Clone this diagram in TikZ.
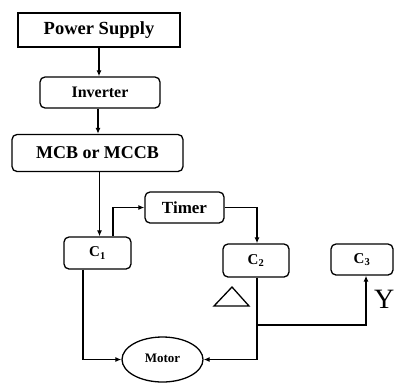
\documentclass[tikz,border=0pt]{standalone}
\usepackage{fontspec}
\setmainfont{Liberation Serif}
\usetikzlibrary{shapes.geometric,arrows.meta}
\begin{document}
\begin{tikzpicture}[x=1pt,y=-1pt,
  box/.style={draw,line width=1.3pt,rounded corners=5pt,inner sep=0pt,font=\bfseries},
  sqbox/.style={draw,line width=1.3pt,inner sep=0pt,font=\bfseries},
  conn/.style={line width=1.3pt,-{Latex[length=6pt,width=5pt]}},
  wire/.style={line width=1.3pt}]
\useasboundingbox (0,0) rectangle (395,383);
\node[sqbox,minimum width=162pt,minimum height=34pt,font=\bfseries\fontsize{18.5}{21}\selectfont] (ps) at (99,30) {Power Supply};
\node[box,minimum width=120pt,minimum height=31pt,font=\bfseries\fontsize{16}{19}\selectfont] (inv) at (100,92.5) {Inverter};
\node[box,minimum width=171pt,minimum height=37pt,font=\bfseries\fontsize{18}{21}\selectfont] (mcb) at (97.5,153) {MCB or MCCB};
\node[box,minimum width=67pt,minimum height=32pt,font=\bfseries\fontsize{15}{18}\selectfont] (c1) at (97.5,253) {C\textsubscript{1}};
\node[box,minimum width=79pt,minimum height=31pt,font=\bfseries\fontsize{17}{20}\selectfont] (timer) at (184.5,207.5) {Timer};
\node[box,minimum width=66pt,minimum height=33pt,font=\bfseries\fontsize{15}{18}\selectfont] (c2) at (256,260.5) {C\textsubscript{2}};
\node[box,minimum width=62pt,minimum height=31pt,font=\bfseries\fontsize{15}{18}\selectfont] (c3) at (362,259.5) {C\textsubscript{3}};
\node[draw,ellipse,line width=1.3pt,minimum width=81pt,minimum height=45pt,inner sep=0pt,font=\bfseries\fontsize{13}{15}\selectfont] (motor) at (162.5,359.5) {\raisebox{3pt}{Motor}};
\node[anchor=north east,inner sep=0pt,font=\fontsize{28}{32}\selectfont] (y) at (394.5,290) {Y};
\draw[wire] (214,306) -- (249,306) -- (232,287) -- cycle;
\draw[conn] (ps.south) -- (ps.south |- inv.north);
\draw[conn] ([xshift=-2pt]inv.south) -- ([xshift=-2pt]inv.south |- mcb.north);
\draw[conn] ([xshift=2pt]mcb.south) -- ([xshift=2pt]mcb.south |- c1.north);
\draw[conn] ([xshift=15.5pt]c1.north) |- (timer.west);
\draw[conn] (timer.east) -| ([xshift=1pt]c2.north);
\draw[conn] ([xshift=1pt]c2.south) |- (motor.east);
\coordinate (br) at (257,325);
\draw[conn] (br) -| ([xshift=4pt]c3.south);
\draw[conn] ([xshift=-14.5pt]c1.south) |- (motor.west);
\end{tikzpicture}
\end{document}
